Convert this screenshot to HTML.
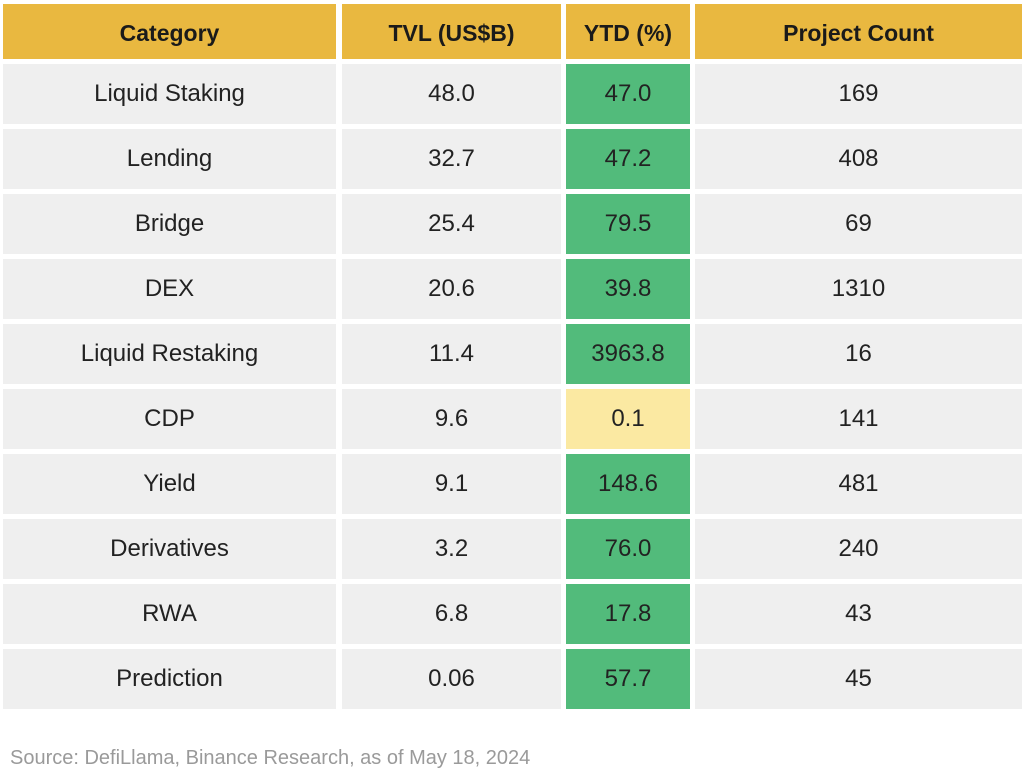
<!DOCTYPE html>
<html><head><meta charset="utf-8"><style>
body{margin:0;width:1028px;height:774px;background:#fff;font-family:"Liberation Sans",sans-serif;position:relative;overflow:hidden}
.c{position:absolute;display:flex;align-items:center;justify-content:center;font-size:24px;color:#222;box-sizing:border-box}
.h{background:#e9b840;font-weight:bold;color:#1a1a1a;font-size:23px;padding-top:3px}
.g{background:#efefef}.gr{background:#52bb7b}.y{background:#fbe9a2}
.src{position:absolute;left:10px;top:747px;font-size:20px;color:#9a9a9a}
</style></head><body>
<div id="t"></div>
<div class="src">Source: DefiLlama, Binance Research, as of May 18, 2024</div>
<script>
const cols=[[3,333],[342,219],[566,124],[695,327]];
const rows=[["Liquid Staking","48.0","47.0","169"],["Lending","32.7","47.2","408"],["Bridge","25.4","79.5","69"],["DEX","20.6","39.8","1310"],["Liquid Restaking","11.4","3963.8","16"],["CDP","9.6","0.1","141"],["Yield","9.1","148.6","481"],["Derivatives","3.2","76.0","240"],["RWA","6.8","17.8","43"],["Prediction","0.06","57.7","45"]];
let h="";
["Category","TVL (US$B)","YTD (%)","Project Count"].forEach((s,i)=>{h+=`<div class="c h" style="left:${cols[i][0]}px;width:${cols[i][1]}px;top:4px;height:55px">${s}</div>`});
rows.forEach((r,j)=>{const top=64+j*65;r.forEach((s,i)=>{let cl=i==2?(s=="0.1"?"y":"gr"):"g";h+=`<div class="c ${cl}" style="left:${cols[i][0]}px;width:${cols[i][1]}px;top:${top}px;height:60px">${s}</div>`})});
document.getElementById("t").innerHTML=h;
</script>
</body></html>
